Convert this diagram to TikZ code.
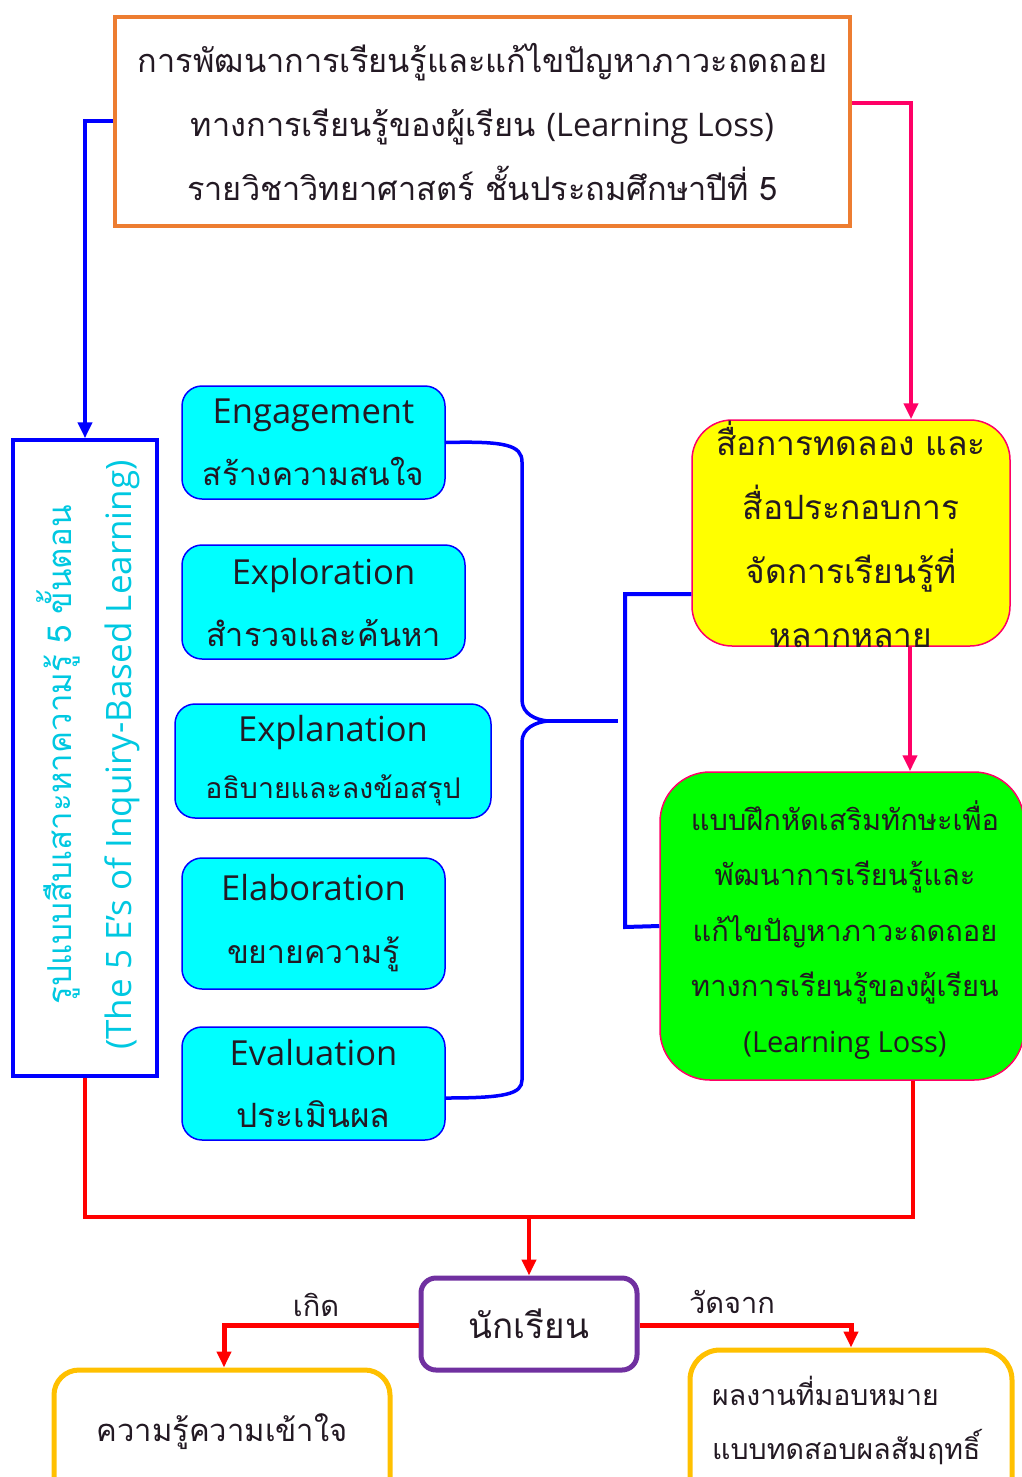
\documentclass[tikz,border=0pt]{standalone}
\usepackage{fontspec}
\setmainfont[Script=Thai]{Loma}
\newfontfamily\latin{Open Sans}
\usetikzlibrary{arrows.meta,calc}
\definecolor{orangeB}{RGB}{237,125,49}
\definecolor{pinkL}{RGB}{255,0,102}
\definecolor{blueL}{RGB}{0,0,255}
\definecolor{cyanF}{RGB}{0,255,255}
\definecolor{yellowF}{RGB}{255,255,0}
\definecolor{greenF}{RGB}{0,255,0}
\definecolor{purpleB}{RGB}{112,48,160}
\definecolor{goldB}{RGB}{255,192,0}
\definecolor{redL}{RGB}{255,0,0}
\definecolor{txtcyan}{RGB}{0,200,225}
\definecolor{txtdark}{RGB}{35,25,35}
\newcommand{\lat}[1]{{\latin\fontsize{34.5}{62}\selectfont #1}}
\begin{document}
\begin{tikzpicture}[x=1pt,y=-1pt,
  tbox/.style={draw=orangeB, line width=4, minimum width=735, minimum height=209, inner sep=0, align=center, text=txtdark, font=\fontsize{32.5}{64}\selectfont},
  ebox/.style={draw=blueL, line width=1.5, fill=cyanF, rounded corners=20, inner sep=0, align=center, text=txtdark, font=\fontsize{32.5}{62}\selectfont},
  bluel/.style={draw=blueL, line width=4},
  pinkl/.style={draw=pinkL, line width=4},
  redl/.style={draw=redL, line width=4},
  tip/.style={-{Triangle[length=16,width=14]}},
  plain/.style={inner sep=0, align=center, text=txtdark}
]
\useasboundingbox (0,0) rectangle (1022,1477);
\clip (0,0) rectangle (1022,1477);

% top box
\node[tbox] (top) at (482.5,121.5) {การพัฒนาการเรียนรู้และแก้ไขปัญหาภาวะถดถอย\\ทางการเรียนรู้ของผู้เรียน {\latin (Learning Loss)}\\รายวิชาวิทยาศาสตร์ ชั้นประถมศึกษาปีที่ 5};

% left box
\node[draw=blueL, line width=3.5, rotate=90, minimum width=636, minimum height=144, inner sep=0] (lbox) at (85,758) {};
\node[plain, rotate=90, text=txtcyan, font=\fontsize{33}{60}\selectfont] (ltext) at (88,755) {รูปแบบสืบเสาะหาความรู้ 5 ขั้นตอน\\{\latin\fontsize{35}{60}\selectfont (The 5 E’s of Inquiry-Based Learning)}};

% 5E boxes
\node[ebox, minimum width=263, minimum height=113] (e1) at (313.5,442.5) {\lat{Engagement}\\{\fontsize{31.5}{62}\selectfont สร้างความสนใจ}};
\node[ebox, minimum width=283, minimum height=114] (e2) at (323.5,602) {\lat{Exploration}\\สำรวจและค้นหา};
\node[ebox, minimum width=316, minimum height=114, font=\fontsize{32}{57}\selectfont] (e3) at (333,761) {\lat{Explanation}\\{\fontsize{28.5}{57}\selectfont อธิบายและลงข้อสรุป}};
\node[ebox, minimum width=263, minimum height=131, font=\fontsize{32}{63}\selectfont] (e4) at (313.5,923.5) {\lat{Elaboration}\\ขยายความรู้};
\node[ebox, minimum width=263, minimum height=113, font=\fontsize{33.5}{62}\selectfont] (e5) at (313.5,1083.5) {\lat{Evaluation}\\ประเมินผล};

% yellow box
\node[draw=pinkL, line width=1.5, fill=yellowF, rounded corners=40, minimum width=318, minimum height=226, inner sep=0] (ybox) at (851,533) {};
\node[plain, font=\fontsize{33.5}{64}\selectfont] (ytext) at (851,534) {สื่อการทดลอง และ\\สื่อประกอบการ\\จัดการเรียนรู้ที่\\หลากหลาย};

% green box
\node[draw=pinkL, line width=1.5, fill=greenF, rounded corners=50, minimum width=364, minimum height=308, inner sep=0] (gbox) at (842,926) {};
\node[plain, font=\fontsize{29}{55.5}\selectfont] (gtext) at (845,930) {แบบฝึกหัดเสริมทักษะเพื่อ\\พัฒนาการเรียนรู้และ\\แก้ไขปัญหาภาวะถดถอย\\ทางการเรียนรู้ของผู้เรียน\\{\latin (Learning Loss)}};

% student box
\node[draw=purpleB, line width=5, rounded corners=15, minimum width=216, minimum height=92, inner sep=0, text=txtdark, font=\fontsize{35}{40}\selectfont] (pbox) at (529,1324) {นักเรียน};

% bottom boxes
\node[draw=goldB, line width=5, rounded corners=25, minimum width=336, minimum height=160, inner sep=0] (kbox) at (222,1450) {};
\node[plain, font=\fontsize{31}{36}\selectfont] (ktext) at (222,1432) {ความรู้ความเข้าใจ};
\node[draw=goldB, line width=5, rounded corners=30, minimum width=322, minimum height=180, inner sep=0] (mbox) at (851,1440) {};
\node[plain, align=left, anchor=west, font=\fontsize{28.5}{54}\selectfont] (mtext) at (712,1420) {ผลงานที่มอบหมาย\\แบบทดสอบผลสัมฤทธิ์};

% labels
\node[plain, font=\fontsize{29}{32}\selectfont] (lb1) at (316,1305) {เกิด};
\node[plain, font=\fontsize{29}{32}\selectfont] (lb2) at (732,1302) {วัดจาก};

% connectors
\draw[bluel, tip] (top.west) -| (lbox.east);
\draw[pinkl, tip] (top.east |- 0,103) -| (ybox.north -| 911,0);
\draw[pinkl, tip] (ybox.south -| 910,0) -- (gbox.north -| 910,0);
\draw[bluel] (ybox.west |- 0,594) -| (625,927) -- (gbox.west);
% brace
\coordinate (btip) at (618,721);
\draw[draw=blueL, line width=3.5] (e1.east) .. controls (505,441) and (522,445) .. (522,462) -- (522,700)
  .. controls (522,714) and (536,720) .. (548,721) .. controls (536,722) and (522,728) .. (522,742)
  -- (522,1080) .. controls (522,1094) and (505,1098) .. (e5.east |- 0,1098);
\draw[draw=blueL, line width=3.5] (548,721) -- (btip);
% red
\coordinate (rj) at (529,1217);
\draw[redl] (lbox.west) |- (913,1217) -- (gbox.south -| 913,0);
\draw[redl, tip] (rj) -- (pbox.north);
\draw[redl, line width=5, tip] (pbox.west |- 0,1325) -| (kbox.north -| 224,0);
\draw[redl, line width=5, tip] (pbox.east |- 0,1325) -| (mbox.north -| 851,0);
\end{tikzpicture}
\end{document}
